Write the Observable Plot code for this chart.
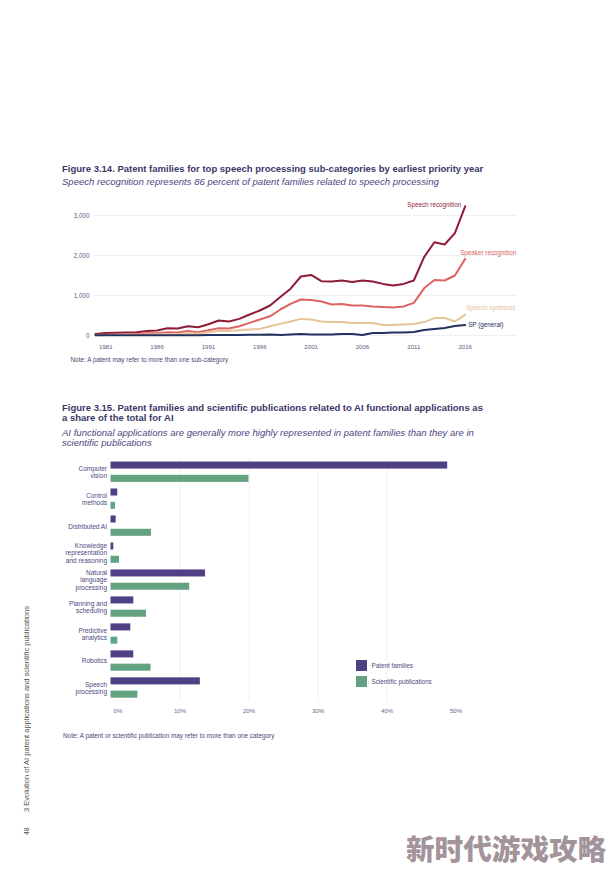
<!DOCTYPE html>
<html><head><meta charset="utf-8">
<script src="https://cdn.jsdelivr.net/npm/d3@7"></script>
<script src="https://cdn.jsdelivr.net/npm/@observablehq/plot@0.6"></script>
<style>
body{margin:0;background:#fff;}
#page{position:relative;width:616px;height:874px;overflow:hidden;background:#fff;font-family:"Liberation Sans",Arial,sans-serif;}
.abs{position:absolute;white-space:nowrap;}
.title{font-weight:bold;font-size:9.5px;line-height:10.7px;color:#3b3768;left:62px;}
.sub{font-style:italic;font-size:9.55px;line-height:10.7px;color:#4b4681;left:62px;}
.note{font-size:6.4px;line-height:8px;color:#4a4872;}
.chart{position:absolute;left:0;}
.leg{position:absolute;width:11px;height:11px;left:356px;}
.legt{position:absolute;left:371.5px;font-size:6.3px;line-height:8px;color:#4e4880;white-space:nowrap;}
#side{position:absolute;left:23px;top:812px;transform-origin:0 0;transform:rotate(-90deg);font-size:7.5px;line-height:8px;color:#555;white-space:nowrap;}
#pnum{position:absolute;left:23px;top:835px;transform-origin:0 0;transform:rotate(-90deg);font-size:6.8px;line-height:8px;color:#555;white-space:nowrap;}
#wm{position:absolute;left:406px;top:830px;font-family:"Noto Sans CJK SC",sans-serif;font-weight:900;font-size:28.6px;line-height:36px;color:#a3939a;white-space:nowrap;}
</style></head>
<body><div id="page">
<div class="abs title" style="top:163.5px">Figure 3.14. Patent families for top speech processing sub-categories by earliest priority year</div>
<div class="abs sub" style="top:176.5px">Speech recognition represents 86 percent of patent families related to speech processing</div>
<div id="c1" class="chart" style="top:195px"></div>
<div class="abs note" style="left:70.5px;top:355.5px">Note: A patent may refer to more than one sub-category</div>

<div class="abs title" style="top:402.5px">Figure 3.15. Patent families and scientific publications related to AI functional applications as<br>a share of the total for AI</div>
<div class="abs sub" style="top:427.5px">AI functional applications are generally more highly represented in patent families than they are in<br>scientific publications</div>
<div id="c2" class="chart" style="top:450px"></div>
<div class="leg" style="top:660px;background:#4f3f85"></div>
<div class="legt" style="top:661.7px">Patent families</div>
<div class="leg" style="top:676px;background:#64a382"></div>
<div class="legt" style="top:677.7px">Scientific publications</div>
<div class="abs note" style="left:63px;top:732px">Note: A patent or scientific publication may refer to more than one category</div>

<div id="side">3 Evolution of AI patent applications and scientific publications</div>
<div id="pnum">48</div>
<div id="wm">新时代游戏攻略</div>
</div>
<script>
// ---------- Figure 3.14 data ----------
const years = [1980,1981,1982,1983,1984,1985,1986,1987,1988,1989,1990,1991,1992,1993,1994,1995,1996,1997,1998,1999,2000,2001,2002,2003,2004,2005,2006,2007,2008,2009,2010,2011,2012,2013,2014,2015,2016];
const speechRecognition = [35,60,70,75,80,110,125,180,175,230,205,280,375,350,415,525,625,750,960,1170,1475,1515,1358,1350,1375,1340,1375,1350,1290,1250,1290,1375,1960,2330,2275,2560,3230];
const speakerRecognition = [10,20,25,30,40,55,55,80,75,110,80,130,180,175,230,315,400,480,650,790,900,890,850,775,790,750,750,725,710,700,725,815,1180,1390,1375,1500,1915];
const speechSynthesis = [5,15,15,20,20,25,25,40,40,55,50,80,110,115,130,150,165,230,290,350,415,400,350,340,335,315,315,315,265,260,275,285,335,435,440,350,515];
const spGeneral = [5,5,5,5,5,5,5,5,5,5,5,10,15,15,15,20,20,25,15,25,40,25,25,25,35,40,15,65,65,75,75,90,140,165,190,240,265];
const lineSeries = ["Speech recognition","Speaker recognition","Speech synthesis","SP (general)"];
const lineColors = ["#8e1b38","#dd6464","#e6c49a","#22325e"];
const yTicks1 = [0,1000,2000,3000];
const xTicks1 = [1981,1986,1991,1996,2001,2006,2011,2016];

// ---------- Figure 3.15 data ----------
const categories = ["Computer vision","Control methods","Distributed AI","Knowledge representation and reasoning","Natural language processing","Planning and scheduling","Predictive analytics","Robotics","Speech processing"];
const categoryLabels = ["Computer\nvision","Control\nmethods","Distributed AI","Knowledge\nrepresentation\nand reasoning","Natural\nlanguage\nprocessing","Planning and\nscheduling","Predictive\nanalytics","Robotics","Speech\nprocessing"];
const patentShare = [48.8,0.98,0.75,0.4,13.7,3.3,2.87,3.3,12.95];
const sciShare = [20.0,0.65,5.86,1.23,11.4,5.14,0.98,5.8,3.9];
const barSeries = ["Patent families","Scientific publications"];
const barColors = ["#4f3f85","#64a382"];
const xTicks2 = [0,0.1,0.2,0.3,0.4,0.5];

const font = "Liberation Sans, Arial, sans-serif";

// ----- chart 1 -----
const seriesValues = [speechRecognition, speakerRecognition, speechSynthesis, spGeneral];
const lineData = [];
lineSeries.forEach((s, i) => years.forEach((y, j) => lineData.push({series: s, year: y, value: seriesValues[i][j]})));
const lastYear = years[years.length - 1];
const ends = lineData.filter(d => d.year === lastYear);
const labelOffsets = {
  "Speech recognition": {dx: -4, dy: -1, textAnchor: "end"},
  "Speaker recognition": {dx: -5, dy: -6, textAnchor: "start"},
  "Speech synthesis": {dx: 1, dy: -7, textAnchor: "start"},
  "SP (general)": {dx: 3, dy: 0, textAnchor: "start"}
};
const chart1 = Plot.plot({
  width: 616, height: 170,
  marginLeft: 95, marginRight: 100, marginTop: 8, marginBottom: 30,
  x: {domain: [1980, 2021]},
  y: {domain: [0, 3300]},
  color: {domain: lineSeries, range: lineColors},
  style: {fontFamily: font, background: "transparent", overflow: "visible"},
  marks: [
    Plot.gridY(yTicks1, {stroke: "#ebebf0", strokeOpacity: 1, strokeWidth: 0.8}),
    Plot.axisY(yTicks1, {tickSize: 0, tickPadding: 6, tickFormat: d3.format(","), fontSize: 6.3, fill: "#5e5c83", label: null}),
    Plot.axisX(xTicks1, {tickSize: 0, tickPadding: 9, tickFormat: d => String(d), fontSize: 6.1, fill: "#5e5c83", label: null}),
    Plot.line(lineData, {x: "year", y: "value", z: "series", stroke: "series", strokeWidth: 2, strokeLinejoin: "round"}),
    ...lineSeries.map(s => Plot.text(ends.filter(d => d.series === s), {
      x: "year", y: "value", text: "series", fill: "series", fontSize: 6.3, ...labelOffsets[s]
    }))
  ]
});
document.getElementById("c1").appendChild(chart1);

// ----- chart 2 -----
const barData = [];
categories.forEach((c, i) => {
  barData.push({category: c, series: barSeries[0], value: patentShare[i] / 100});
  barData.push({category: c, series: barSeries[1], value: sciShare[i] / 100});
});
const labelMap = new Map(categories.map((c, i) => [c, categoryLabels[i]]));
const chart2 = Plot.plot({
  width: 616, height: 271,
  marginLeft: 110.5, marginRight: 160.5, marginTop: 8.2, marginBottom: 20,
  x: {domain: [0, 0.5]},
  fy: {domain: categories, padding: 0, round: false},
  y: {domain: barSeries, paddingInner: 0.47, paddingOuter: 0.25, round: false, axis: null},
  color: {domain: barSeries, range: barColors},
  style: {fontFamily: font, background: "transparent", overflow: "visible"},
  marks: [
    Plot.gridX(xTicks2.slice(1, 5), {stroke: "#ececf2", strokeOpacity: 1, strokeWidth: 0.8}),
    Plot.barX(barData, {x: "value", y: "series", fy: "category", fill: "series"}),
    Plot.axisFy({anchor: "left", tickSize: 0, tickPadding: 4, tickFormat: d => labelMap.get(d), fontSize: 6.5, lineHeight: 1.13, fill: "#4e4880", label: null}),
    Plot.axisX(xTicks2.slice(0, 1), {tickSize: 0, tickPadding: 7, dx: 7, tickFormat: d3.format(".0%"), fontSize: 6.1, fill: "#6a6890", label: null}),
    Plot.axisX(xTicks2.slice(1), {tickSize: 0, tickPadding: 7, tickFormat: d3.format(".0%"), fontSize: 6.1, fill: "#6a6890", label: null})
  ]
});
document.getElementById("c2").appendChild(chart2);
</script>
</body></html>
